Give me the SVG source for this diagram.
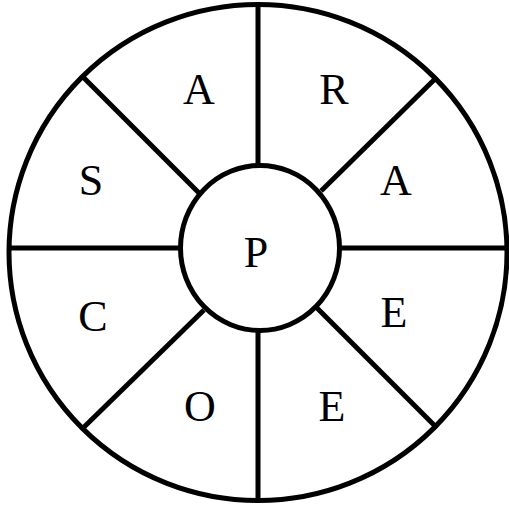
<svg xmlns="http://www.w3.org/2000/svg" width="509" height="507" viewBox="0 0 509 507">
<style>
.ln{stroke:#000;stroke-width:5;fill:none}
.t{font-family:"Liberation Serif","Times New Roman",serif;font-size:44px;fill:#000;text-anchor:middle}
</style>
<rect width="509" height="507" fill="#fff"/>
<g id="connectors">
<line class="ln" x1="258" y1="3" x2="258" y2="166"/>
<line class="ln" x1="258" y1="330" x2="258" y2="501"/>
<line class="ln" x1="8" y1="248" x2="181" y2="248"/>
<line class="ln" x1="339" y1="248" x2="509" y2="248"/>
<line class="ln" x1="82" y1="76" x2="200" y2="194"/>
<line class="ln" x1="437" y1="77" x2="321" y2="191"/>
<line class="ln" x1="83" y1="428" x2="204" y2="310"/>
<line class="ln" x1="437" y1="428" x2="317" y2="308"/>
</g>
<g id="outer"><ellipse class="ln" cx="258" cy="252.5" rx="249" ry="248"/></g>
<g id="center"><ellipse class="ln" cx="260" cy="248" rx="79.5" ry="82.5" fill="#fff"/><text class="t" x="256" y="267">P</text></g>
<g id="s1"><text class="t" x="199" y="104">A</text></g>
<g id="s2"><text class="t" x="334" y="104">R</text></g>
<g id="s3"><text class="t" x="396" y="195">A</text></g>
<g id="s4"><text class="t" x="394" y="327">E</text></g>
<g id="s5"><text class="t" x="332" y="421">E</text></g>
<g id="s6"><text class="t" x="200" y="421">O</text></g>
<g id="s7"><text class="t" x="93" y="331">C</text></g>
<g id="s8"><text class="t" x="91" y="195">S</text></g>
</svg>
